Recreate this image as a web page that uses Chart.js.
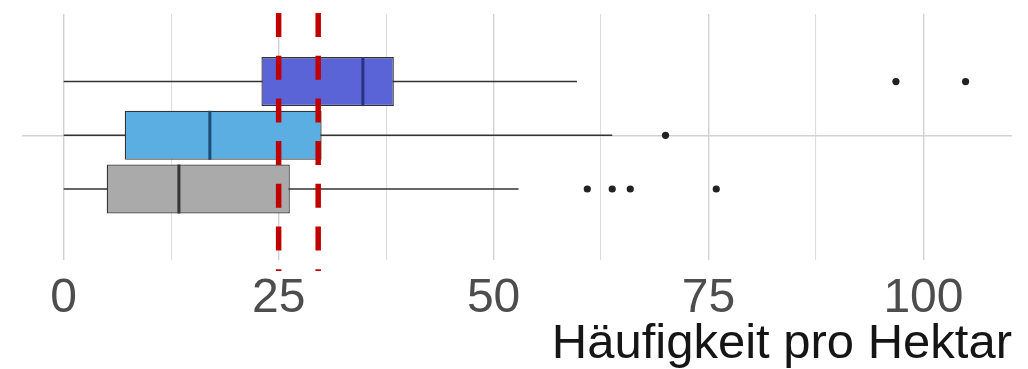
<!DOCTYPE html>
<html>
<head>
<meta charset="utf-8">
<script src="https://cdn.jsdelivr.net/npm/chart.js@4/dist/chart.umd.min.js"></script>
<style>
  html, body { margin: 0; padding: 0; background: #ffffff; }
  #wrap { width: 1028px; height: 369px; }
</style>
</head>
<body>
<div id="wrap"><canvas id="chart" width="1028" height="369"></canvas></div>
<script>
// Boxplot summaries per group (top to bottom), values in Häufigkeit pro Hektar
const groups = ['Gruppe 1', 'Gruppe 2', 'Gruppe 3'];
const whiskerLow = [0, 0, 0];
const q1 = [23.0, 7.1, 5.0];
const median = [34.8, 17.0, 13.4];
const q3 = [38.4, 30.0, 26.3];
const whiskerHigh = [59.7, 63.8, 52.9];
const outliers = [
  [96.8, 104.9],
  [70.0],
  [60.9, 63.8, 65.9, 75.9]
];

// Reference thresholds (red dashed lines)
const thresholds = [25, 29.6];

// Axis ticks: labelled majors plus unlabelled minor grid steps
const tickLabels = ['0', '25', '50', '75', '100'];
const majorTicks = [0, 25, 50, 75, 100];
const minorTicks = [12.5, 37.5, 62.5, 87.5];

const boxFill = ['#5a64d7', '#5aaee2', '#aaaaaa'];
const medianColor = ['#2b3183', '#1b4d73', '#363636'];

// groups are dodged around a single category centred at 1
const dodgeStep = 0.25;
const groupPos = groups.map((g, i) => 1 + (1 - i) * dodgeStep);

const datasets = [];

// median bars
datasets.push({
  type: 'scatter',
  order: 1,
  data: groups.map((g, i) => ({ x: median[i], y: groupPos[i] })),
  pointStyle: 'line',
  rotation: 90,
  radius: 24.5,
  borderWidth: 3,
  borderColor: medianColor,
  hoverRadius: 24.5
});

// outliers
datasets.push({
  type: 'scatter',
  order: 1,
  data: outliers.flatMap((arr, i) => arr.map(v => ({ x: v, y: groupPos[i] }))),
  pointStyle: 'circle',
  radius: 3.6,
  hoverRadius: 3.6,
  borderWidth: 0,
  backgroundColor: '#222222'
});

// boxes (q1 .. q3)
datasets.push({
  type: 'bar',
  order: 2,
  indexAxis: 'y',
  data: groups.map((g, i) => ({ x: [q1[i], q3[i]], y: groupPos[i] })),
  backgroundColor: boxFill,
  borderColor: '#333333',
  borderWidth: 1.3,
  borderSkipped: false,
  categoryPercentage: 1,
  barPercentage: 0.912
});

// whiskers, drawn underneath the boxes
groups.forEach((g, i) => {
  datasets.push({
    type: 'line',
    order: 3,
    data: [{ x: whiskerLow[i], y: groupPos[i] }, { x: whiskerHigh[i], y: groupPos[i] }],
    borderColor: '#333333',
    borderWidth: 1.5,
    pointRadius: 0,
    fill: false
  });
});

const thresholdLines = {
  id: 'thresholdLines',
  afterDatasetsDraw(chart) {
    const { ctx, chartArea, scales } = chart;
    ctx.save();
    ctx.strokeStyle = '#c00000';
    ctx.lineWidth = 5.5;
    ctx.setLineDash([24, 18.7]);
    thresholds.forEach(v => {
      const x = scales.x.getPixelForValue(v);
      ctx.beginPath();
      ctx.moveTo(x, chartArea.top - 1);
      ctx.lineTo(x, chartArea.bottom + 11);
      ctx.stroke();
    });
    ctx.restore();
  }
};

const allTicks = majorTicks.concat(minorTicks).sort((a, b) => a - b);

new Chart(document.getElementById('chart'), {
  data: { datasets },
  options: {
    responsive: false,
    animation: false,
    events: [],
    layout: { autoPadding: false, padding: { left: 22, right: 16, top: 14, bottom: 0 } },
    plugins: {
      legend: { display: false },
      tooltip: { enabled: false }
    },
    scales: {
      x: {
        type: 'linear',
        position: 'bottom',
        offset: false,
        min: -4.85,
        max: 110.3,
        afterBuildTicks: s => { s.ticks = allTicks.map(v => ({ value: v })); },
        afterFit: s => { s.height = 109; s.paddingLeft = 0; s.paddingRight = 0; },
        ticks: {
          autoSkip: false,
          maxRotation: 0,
          padding: 10,
          color: '#4d4d4d',
          font: { family: '"Liberation Sans", Arial, sans-serif', size: 48 },
          callback: v => {
            const k = majorTicks.indexOf(v);
            return k >= 0 ? tickLabels[k] : '';
          }
        },
        grid: {
          offset: false,
          drawTicks: false,
          color: ctx => majorTicks.includes(ctx.tick && ctx.tick.value) ? '#d2d2d2' : '#dddddd',
          lineWidth: ctx => majorTicks.includes(ctx.tick && ctx.tick.value) ? 1.4 : 1.1
        },
        border: { display: false },
        title: {
          display: true,
          text: 'Häufigkeit pro Hektar',
          align: 'end',
          color: '#151515',
          padding: { top: 0, bottom: 0 },
          font: { family: '"Liberation Sans", Arial, sans-serif', size: 49, lineHeight: 1.0 }
        }
      },
      y: {
        type: 'linear',
        offset: false,
        min: 0.4195,
        max: 1.5647,
        afterBuildTicks: s => { s.ticks = [{ value: 1 }]; },
        afterFit: s => { s.width = 0; s.paddingTop = 0; s.paddingBottom = 0; },
        ticks: { display: false },
        grid: { offset: false, drawTicks: false, color: '#d2d2d2', lineWidth: 1.4 },
        border: { display: false }
      }
    }
  },
  plugins: [thresholdLines]
});
</script>
</body>
</html>
